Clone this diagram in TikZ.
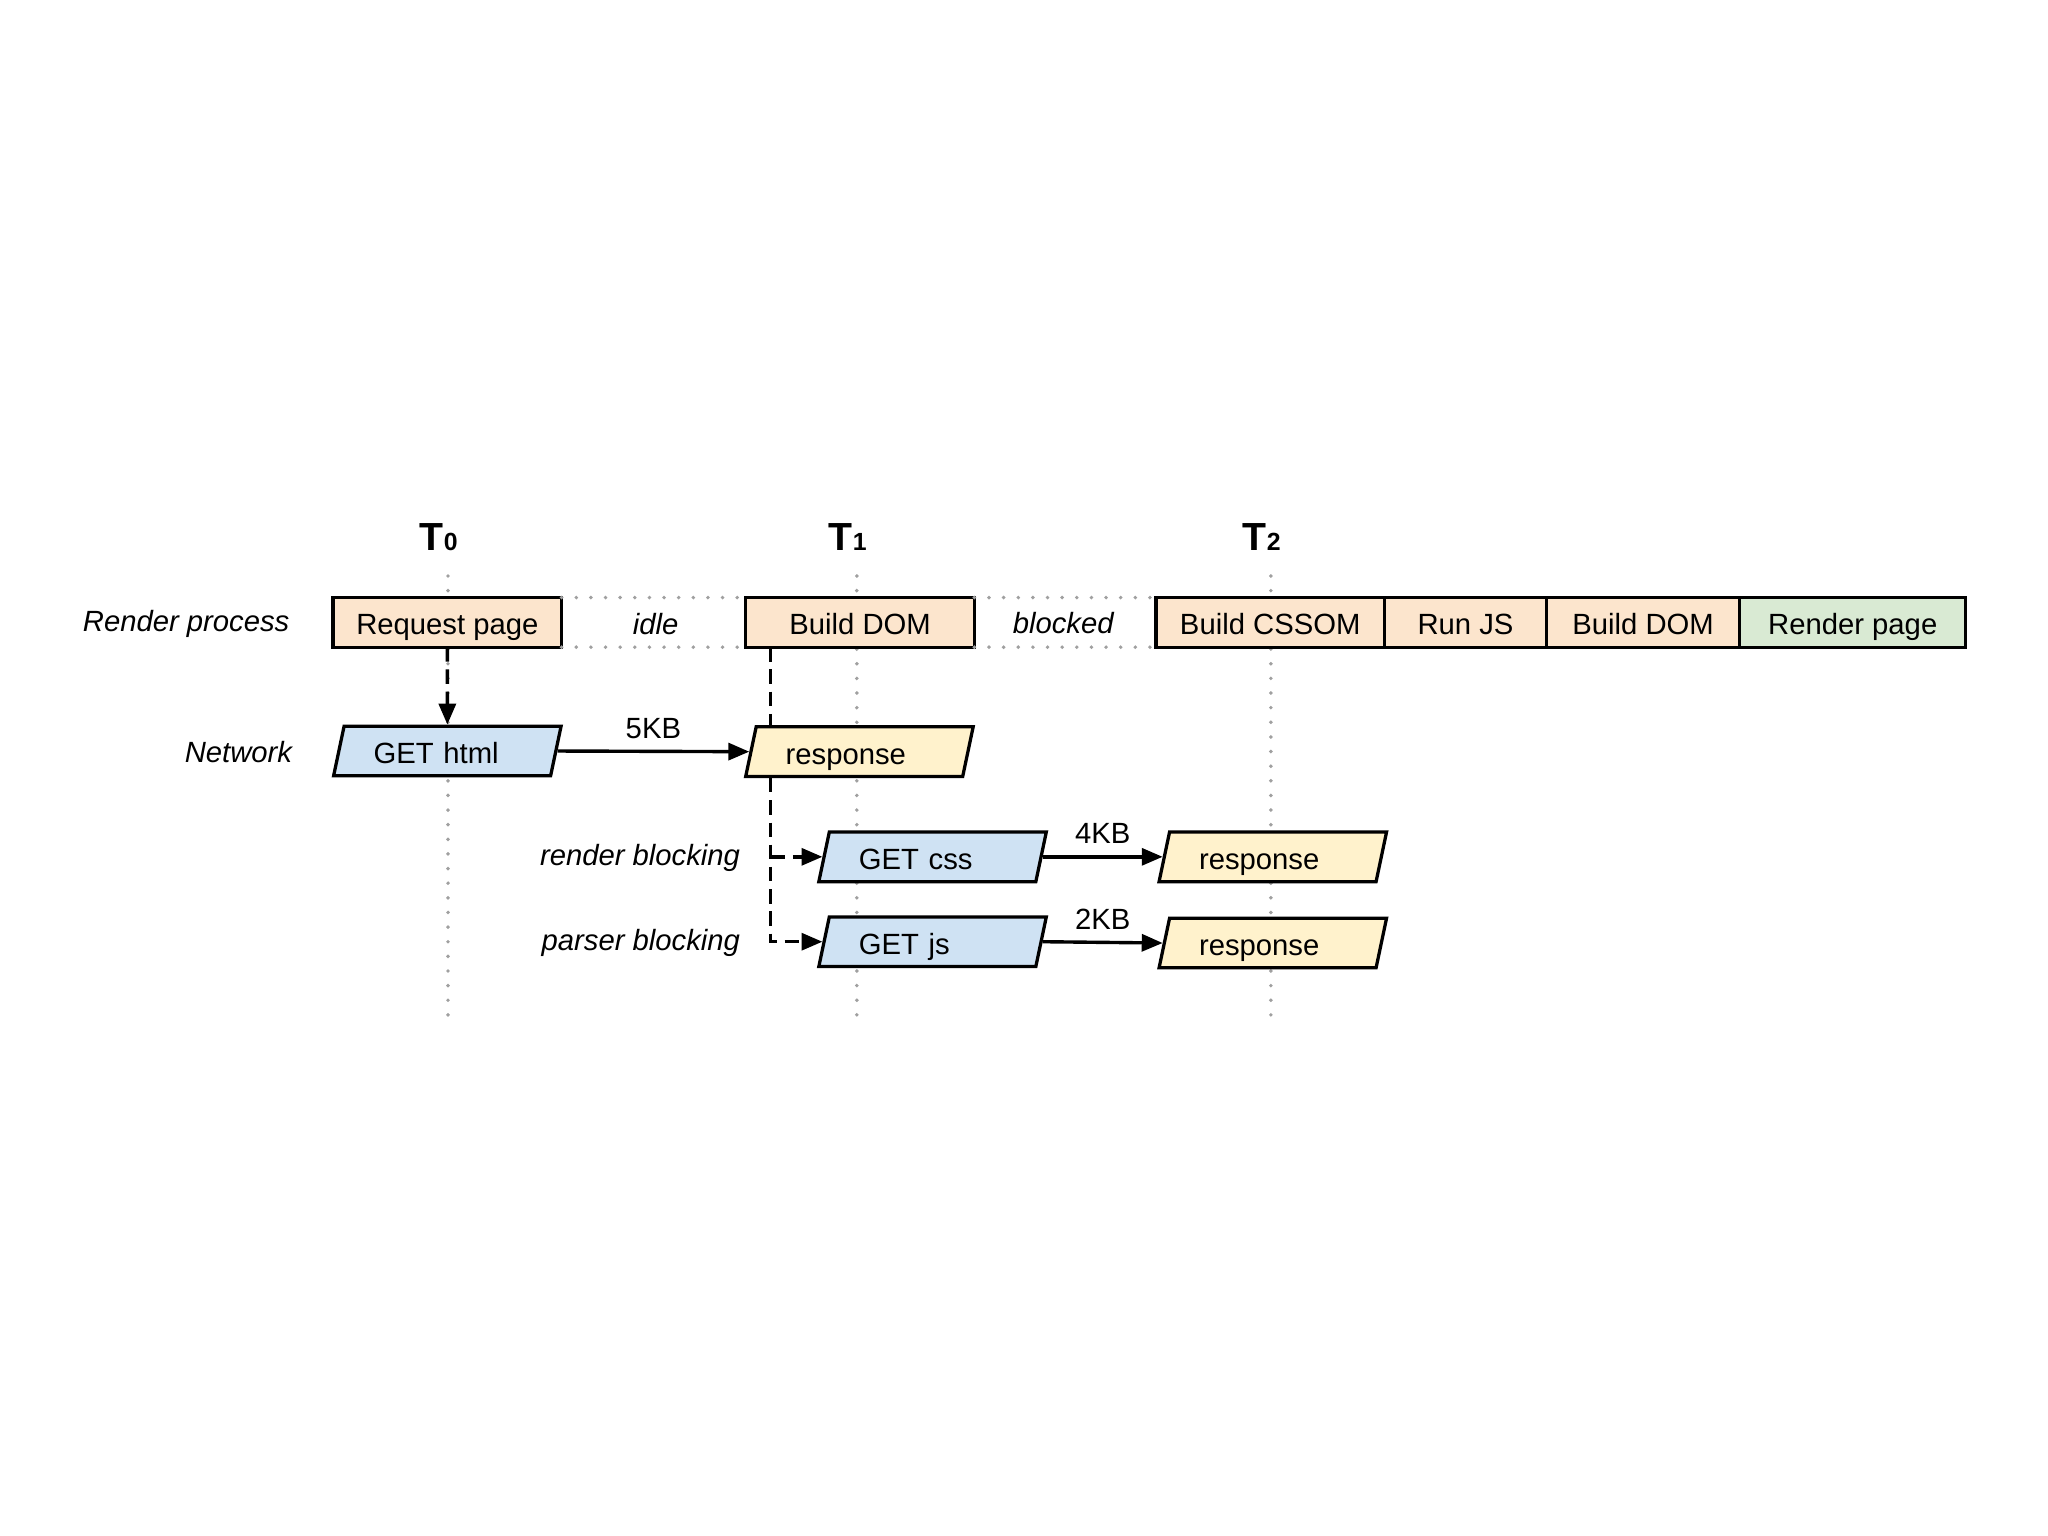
\documentclass[tikz,border=0pt]{standalone}
\usepackage{fontspec}
\setmainfont{Liberation Sans}
\usetikzlibrary{shapes.geometric,arrows.meta,positioning}

\definecolor{peach}{HTML}{FCE5CD}
\definecolor{skyblue}{HTML}{CFE2F3}
\definecolor{cream}{HTML}{FFF2CC}
\definecolor{mint}{HTML}{D9EAD3}
\definecolor{dotgray}{HTML}{A0A0A0}

\begin{document}
\begin{tikzpicture}[
        x=0.5pt, y=-0.5pt,
        font=\fontsize{11.2}{13}\selectfont,
        task/.style={
            draw=black,
            line width=1.25pt,
            fill=peach,
            minimum width=87.5pt,
            minimum height=19pt,
            inner sep=0pt,
            outer sep=0pt,
            text height=10.5pt,
            text depth=1pt
        },
        fetch/.style={
            trapezium,
            trapezium left angle=76,
            trapezium right angle=104,
            trapezium stretches=true,
            draw=black,
            line width=1.25pt,
            minimum width=87.5pt,
            minimum height=19pt,
            inner sep=0pt,
            text width=56.5pt,
            text height=10.5pt,
            text depth=1pt,
            align=left
        },
        lane/.style={font=\fontsize{11.2}{13}\selectfont\itshape, anchor=east, inner sep=0pt},
        gap/.style={font=\fontsize{11.2}{13}\selectfont\itshape},
        tlabel/.style={font=\fontsize{15}{15}\selectfont\bfseries},
        guide/.style={dotgray, line width=1.5pt, line cap=round, dash pattern=on 0pt off 5.6pt},
        flow/.style={line width=1.3pt, -{Triangle[length=8pt,width=6.5pt]}},
        waitline/.style={line width=1.3pt, dash pattern=on 5.5pt off 3pt},
        waitflow/.style={flow, dash pattern=on 5.5pt off 3pt}
    ]
    \useasboundingbox (0,0) rectangle (1568,1176);

    % Istanti e linee guida
    \foreach \name/\x/\n in {t0/343/0, t1/656/1, t2/973/2} {
        \node[tlabel] (\name) at (\x-7,411) {T{\fontsize{9.5}{9.5}\selectfont\n}};
        \draw[guide] (\x,441) -- (\x,780);
    }

    % Etichette delle corsie
    \node[lane] (rplabel) at (222,478) {Render process};
    \node[lane] (netlabel) at (224,576) {Network};
    \node[lane] (rblabel) at (567,657) {render blocking};
    \node[lane] (pblabel) at (567,722) {parser blocking};

    % Render process
    \node[task] (req) at (342.5,476.5) {Request page};
    \node[task] (dom1) at (658.5,476.5) {Build DOM};
    \node[task] (cssom) at (972.5,476.5) {Build CSSOM};
    \node[task, minimum width=62pt, right=0pt of cssom] (runjs) {Run JS};
    \node[task, minimum width=74pt, right=0pt of runjs] (dom2) {Build DOM};
    \node[task, fill=mint, minimum width=86.5pt, right=0pt of dom2] (render) {Render page};

    \node[gap] (idle) at (502,478) {idle};
    \node[gap] (blocked) at (814,477) {blocked};
    \draw[guide] (req.north east) -- (dom1.north west);
    \draw[guide] (req.south east) -- (dom1.south west);
    \draw[guide] (dom1.north east) -- (cssom.north west);
    \draw[guide] (dom1.south east) -- (cssom.south west);

    % Network
    \node[fetch, fill=skyblue] (gethtml) at (342.5,575) {GET html};
    \node[fetch, fill=cream] (resp1) at (658,575.5) {response};
    \node[fetch, fill=skyblue] (getcss) at (714,656) {GET css};
    \node[fetch, fill=cream] (resp2) at (974.5,656) {response};
    \node[fetch, fill=skyblue] (getjs) at (714,721) {GET js};
    \node[fetch, fill=cream] (resp3) at (974.5,722) {response};

    % Collegamenti
    \draw[waitflow] (req.south) -- (gethtml.north);
    \draw[flow] (gethtml.right side) -- node[above=1pt] {5KB} (resp1.left side);
    \draw[flow] (getcss.right side) -- node[above=1pt] {4KB} (resp2.left side);
    \draw[flow] (getjs.right side) -- node[above=1pt] {2KB} (resp3.left side);

    \coordinate (tap) at ([xshift=9.5pt]dom1.south west);
    \draw[waitline] (tap) -- (tap |- resp1.north);
    \draw[waitflow] (tap |- resp1.south) -- (tap |- getjs.left side) -- (getjs.left side);
    \draw[waitflow] (tap |- getcss.left side) -- (getcss.left side);
\end{tikzpicture}
\end{document}
